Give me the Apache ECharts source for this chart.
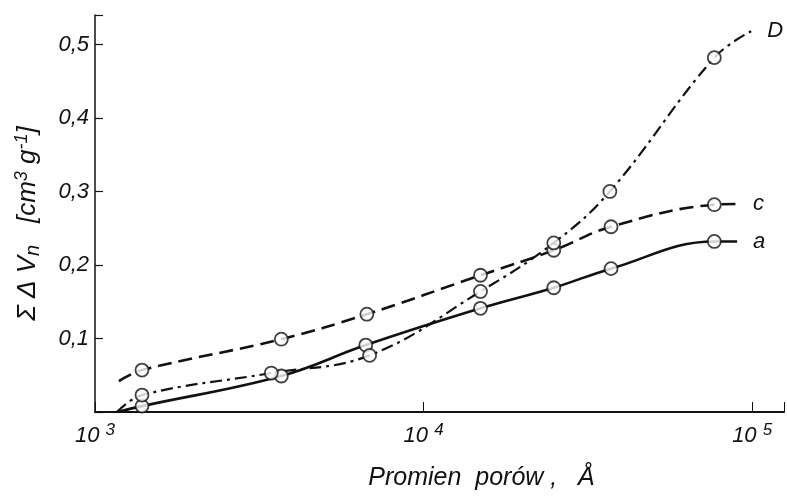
<!DOCTYPE html>
<html>
<head>
<meta charset="utf-8">
<script src="https://cdn.jsdelivr.net/npm/echarts@6/dist/echarts.min.js"></script>
<style>
  html, body { margin: 0; padding: 0; background: #fff; }
  #ech { width: 787px; height: 496px; }
</style>
</head>
<body>
<div id="ech"></div>
<script>
// pore radius (Angstrom) and cumulative volume (cm3/g); first and last point of each curve have no marker
var radiiA = [1166, 1390, 3690, 6670, 14900, 24900, 37200, 76700, 90000];
var valuesA = [0, 0.008, 0.049, 0.091, 0.141, 0.169, 0.195, 0.232, 0.232];
var radiiC = [1182, 1390, 3690, 6720, 14900, 24900, 37200, 76700, 90000];
var valuesC = [0.042, 0.057, 0.099, 0.133, 0.186, 0.220, 0.252, 0.282, 0.283];
var radiiD = [1166, 1390, 3440, 6850, 14900, 24900, 36900, 76700, 99300];
var valuesD = [0, 0.023, 0.053, 0.077, 0.164, 0.230, 0.300, 0.482, 0.518];
var curveNames = ['a', 'c', 'D'];
var xTicks = [1000, 10000, 100000];
var yTicks = [0.1, 0.2, 0.3, 0.4, 0.5];

var font = '"Liberation Sans", sans-serif';
var ink = '#111';

function pairs(xs, ys) {
    var out = [];
    for (var i = 0; i < xs.length; i++) out.push([xs[i], ys[i]]);
    return out;
}

var curves = [
    {name: curveNames[0], data: pairs(radiiA, valuesA), type: 'solid', width: 2.6},
    {name: curveNames[1], data: pairs(radiiC, valuesC), type: [14, 7], width: 2.6},
    {name: curveNames[2], data: pairs(radiiD, valuesD), type: [12, 5, 3, 5], width: 2.2}
];

var series = [];
curves.forEach(function (c) {
    series.push({
        name: c.name,
        type: 'line',
        smooth: 0.4,
        showSymbol: false,
        data: c.data,
        lineStyle: {color: ink, width: c.width, type: c.type},
        endLabel: {
            show: true,
            formatter: '{a}',
            color: ink,
            fontSize: 22,
            fontStyle: 'italic',
            fontFamily: font,
            distance: 16
        },
        z: 2
    });
    series.push({
        type: 'scatter',
        data: c.data.slice(1, -1),
        symbol: 'circle',
        symbolSize: 13,
        itemStyle: {color: '#fff', borderColor: ink, borderWidth: 1.8},
        z: 3
    });
});

var myChart = echarts.init(document.getElementById('ech'));
var option = {
    animation: false,
    backgroundColor: '#fff',
    grid: {left: 95, right: 0, top: 15, bottom: 82, containLabel: false},
    xAxis: {
        type: 'log',
        logBase: 10,
        min: 1000,
        max: 125000,
        name: 'Promien  porów ,   Å',
        nameLocation: 'middle',
        nameGap: 54,
        nameTextStyle: {color: ink, fontSize: 25, fontStyle: 'italic', fontFamily: font, padding: [0, 0, 0, 84]},
        axisLine: {lineStyle: {color: ink, width: 2}},
        axisTick: {inside: true, length: 10, lineStyle: {color: ink, width: 1}},
        splitLine: {show: false},
        axisLabel: {
            margin: 10,
            color: ink,
            fontSize: 22,
            fontStyle: 'italic',
            fontFamily: font,
            formatter: function (v) {
                for (var i = 0; i < xTicks.length; i++) {
                    if (Math.abs(v - xTicks[i]) < 1e-6 * xTicks[i]) {
                        return '10 {sup|' + Math.round(Math.log10(v)) + '}';
                    }
                }
                return '';
            },
            rich: {
                sup: {fontSize: 17, fontStyle: 'italic', fontFamily: font, color: ink, verticalAlign: 'top', padding: [0, 0, 10, 0]}
            }
        }
    },
    yAxis: {
        type: 'value',
        min: 0,
        max: 0.54,
        interval: 0.1,
        name: 'Σ Δ V{sub|n}   [cm{sup|3} g{sup|-1}]',
        nameLocation: 'middle',
        nameRotate: 90,
        nameGap: 52,
        nameTextStyle: {
            color: ink, fontSize: 26, fontStyle: 'italic', fontFamily: font, padding: [0, 20, 0, 0],
            rich: {
                sub: {fontSize: 20, fontStyle: 'italic', fontFamily: font, color: ink, padding: [10, 0, 0, 0]},
                sup: {fontSize: 18, fontStyle: 'italic', fontFamily: font, color: ink, padding: [0, 0, 12, 0]}
            }
        },
        axisLine: {show: true, lineStyle: {color: ink, width: 1.5}},
        axisTick: {show: true, inside: true, length: 8, lineStyle: {color: ink, width: 1.2}},
        splitLine: {show: false},
        axisLabel: {
            margin: 6,
            color: ink,
            fontSize: 22,
            fontStyle: 'italic',
            fontFamily: font,
            formatter: function (v) {
                for (var i = 0; i < yTicks.length; i++) {
                    if (Math.abs(v - yTicks[i]) < 1e-6) return String(yTicks[i]).replace('.', ',');
                }
                return '';
            }
        }
    },
    series: series
};
myChart.setOption(option);
</script>
</body>
</html>
